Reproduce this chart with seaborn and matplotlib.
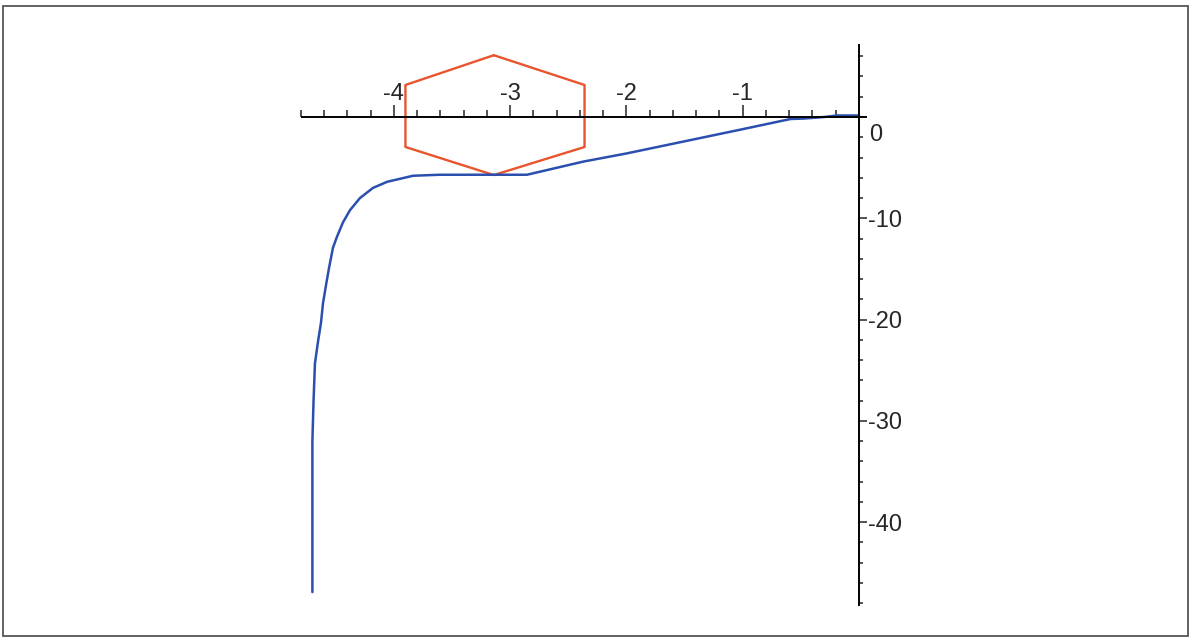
import numpy as np
import matplotlib
matplotlib.use("Agg")
import matplotlib.pyplot as plt
from matplotlib.patches import Rectangle
from matplotlib.ticker import FixedLocator
import seaborn as sns

# --- data ---
curve_x = [-4.70, -4.70, -4.69, -4.678, -4.652, -4.626, -4.609, -4.583, -4.557,
           -4.523, -4.488, -4.437, -4.377, -4.291, -4.179, -4.058, -3.835,
           -3.603, -3.20, -2.855, -2.37, -2.0, -1.5, -1.0, -0.59, -0.47,
           -0.30, -0.19, 0.0]
curve_y = [-46.9, -32.0, -28.0, -24.3, -22.2, -20.3, -18.4, -16.6, -14.9,
           -12.9, -11.8, -10.4, -9.2, -8.0, -7.0, -6.4, -5.8,
           -5.7, -5.7, -5.7, -4.4, -3.6, -2.4, -1.2, -0.2, -0.15,
           0.0, 0.15, 0.15]

hex_x = [-3.14, -2.36, -2.36, -3.14, -3.90, -3.90, -3.14]
hex_y = [6.1, 3.16, -2.96, -5.73, -2.96, 3.16, 6.1]

x_major = [-4, -3, -2, -1]
x_labels = ["-4", "-3", "-2", "-1"]
y_major = [-10, -20, -30, -40]
y_labels = ["-10", "-20", "-30", "-40"]

sns.set_style("white")
plt.rcParams['font.family'] = ['Liberation Sans', 'DejaVu Sans']

fig = plt.figure(figsize=(11.92, 6.39), dpi=100)
ax = fig.add_axes([0, 0, 1, 1])

sns.lineplot(x=hex_x, y=hex_y, sort=False, estimator=None, ax=ax,
             color="#e8552d", lw=1.7)
sns.lineplot(x=curve_x, y=curve_y, sort=False, estimator=None, ax=ax,
             color="#2b4fae", lw=1.8)

ax.set_xlim(-7.386, 2.863)
ax.set_ylim(-51.53, 11.55)
ax.set_facecolor("none")

# axes crossing at the origin, Maple style
ax.spines['left'].set_visible(False)
ax.spines['bottom'].set_visible(False)
ax.spines['top'].set_position(('data', 0))
ax.spines['right'].set_position(('data', 0))
ax.spines['top'].set_bounds(-4.79, 0.06)
ax.spines['right'].set_bounds(-48.2, 7.1)
for s in ['top', 'right']:
    ax.spines[s].set_linewidth(1.4)
    ax.spines[s].set_color("black")

ax.xaxis.set_ticks_position('top')
ax.yaxis.set_ticks_position('right')
ax.set_xticks(x_major)
ax.set_xticklabels(x_labels)
ax.set_yticks(y_major)
ax.set_yticklabels(y_labels)
ax.xaxis.set_minor_locator(FixedLocator(np.arange(-4.8, 0.01, 0.2)))
ax.yaxis.set_minor_locator(FixedLocator(np.arange(-48, 7.1, 2)))

ax.tick_params(axis='x', which='major', direction='out', length=8.6, width=1.1,
               pad=0, labelsize=17)
ax.tick_params(axis='x', which='minor', direction='out', length=5, width=1.1)
ax.tick_params(axis='y', which='major', direction='out', length=5.8, width=1.1,
               pad=1, labelsize=17)
ax.tick_params(axis='y', which='minor', direction='out', length=3, width=1.1)

ax.annotate("0", xy=(0, 0), xytext=(7, -13), textcoords='offset points',
            ha='left', va='center', fontsize=17)
ax.grid(False)

# outer frame
fig.patches.append(Rectangle((3 / 1192, 3 / 639), 1185 / 1192, 630 / 639,
                             transform=fig.transFigure, fill=False,
                             edgecolor="#555555", lw=1.3))

fig.savefig("out.png", dpi=100)
